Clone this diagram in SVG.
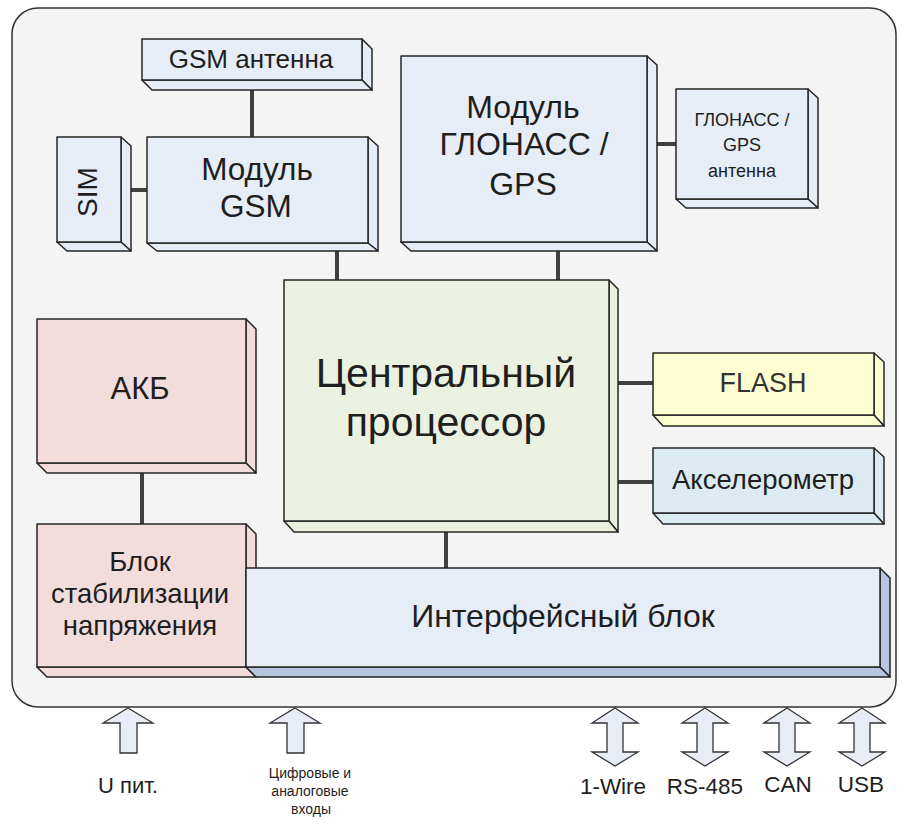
<svg xmlns="http://www.w3.org/2000/svg" width="909" height="825" viewBox="0 0 909 825">
<style>
.f{stroke:#262626;stroke-width:1.5;stroke-linejoin:round}
.b{fill:#e7edf6}
.p{fill:#f2dddc}
.g{fill:#ebf1e0}
.y{fill:#fdfdd2}
.c{fill:#dcebf1}
.bd{fill:#b7c6de}
.t{font-family:"Liberation Sans",Arial,sans-serif;fill:#1e1e1e;text-anchor:middle}
.cn{stroke:#404040;stroke-width:4;fill:none}
.ar{fill:#e8edf5;stroke:#333;stroke-width:1.3;stroke-linejoin:miter}
</style>
<rect x="12" y="8" width="884" height="699" rx="26" ry="26" fill="#f4f4f4" stroke="#333" stroke-width="1.5"/>

<g id="connectors">
<line class="cn" x1="252" y1="90" x2="252" y2="137"/>
<line class="cn" x1="131" y1="190" x2="147" y2="190"/>
<line class="cn" x1="337" y1="251" x2="337" y2="281"/>
<line class="cn" x1="558" y1="251" x2="558" y2="281"/>
<line class="cn" x1="657" y1="144" x2="676" y2="144"/>
<line class="cn" x1="142" y1="473" x2="142" y2="524"/>
<line class="cn" x1="618" y1="383" x2="653" y2="383"/>
<line class="cn" x1="618" y1="482" x2="653" y2="482"/>
<line class="cn" x1="446" y1="532" x2="446" y2="568"/>
</g>

<g id="gsm-antenna">
<polygon class="f b" points="362,39 372,49 372,90 362,80"/>
<polygon class="f b" points="142,80 362,80 372,90 152,90"/>
<rect class="f b" x="142" y="39" width="220" height="41"/>
<text class="t" x="251" y="68" font-size="26">GSM антенна</text>
</g>

<g id="sim">
<polygon class="f b" points="121,137 131,146 131,251 121,242"/>
<polygon class="f b" points="57,242 121,242 131,251 67,251"/>
<rect class="f b" x="57" y="137" width="64" height="105"/>
<text class="t" x="0" y="0" font-size="28" transform="translate(97,192) rotate(-90)">SIM</text>
</g>

<g id="gsm-module">
<polygon class="f b" points="368,137 378,146 378,251 368,243"/>
<polygon class="f b" points="147,243 368,243 378,251 157,251"/>
<rect class="f b" x="147" y="137" width="221" height="106"/>
<text class="t" x="257" y="180" font-size="31.5">Модуль</text>
<text class="t" x="256" y="217" font-size="31.5">GSM</text>
</g>

<g id="glonass-module">
<polygon class="f b" points="647,56 657,65 657,251 647,242"/>
<polygon class="f b" points="401,242 647,242 657,251 411,251"/>
<rect class="f b" x="401" y="56" width="246" height="186"/>
<text class="t" x="523" y="118" font-size="32">Модуль</text>
<text class="t" x="524" y="155" font-size="32">ГЛОНАСС /</text>
<text class="t" x="523" y="195" font-size="32">GPS</text>
</g>

<g id="glonass-antenna">
<polygon class="f b" points="808,89 818,98 818,208 808,199"/>
<polygon class="f b" points="676,199 808,199 818,208 686,208"/>
<rect class="f b" x="676" y="89" width="132" height="110"/>
<text class="t" x="742" y="126" font-size="18">ГЛОНАСС /</text>
<text class="t" x="742" y="151" font-size="18">GPS</text>
<text class="t" x="742" y="177" font-size="18">антенна</text>
</g>

<g id="cpu">
<polygon class="f g" points="609,280 618,289 618,532 609,521"/>
<polygon class="f g" points="284,521 609,521 618,532 294,532"/>
<rect class="f g" x="284" y="280" width="325" height="241"/>
<text class="t" x="446" y="387" font-size="41">Центральный</text>
<text class="t" x="446" y="436" font-size="41">процессор</text>
</g>

<g id="akb">
<polygon class="f p" points="246,319 256,329 256,473 246,463"/>
<polygon class="f p" points="37,463 246,463 256,473 47,473"/>
<rect class="f p" x="37" y="319" width="209" height="144"/>
<text class="t" x="140" y="399" font-size="31">АКБ</text>
</g>

<g id="voltage-stabilizer">
<polygon class="f p" points="246,524 256,534 256,677 246,667"/>
<polygon class="f p" points="37,667 246,667 256,677 47,677"/>
<rect class="f p" x="37" y="524" width="209" height="143"/>
<text class="t" x="140" y="571" font-size="27.5">Блок</text>
<text class="t" x="140" y="603" font-size="27.5">стабилизации</text>
<text class="t" x="140" y="635" font-size="27.5">напряжения</text>
</g>

<g id="interface">
<polygon class="f bd" points="880,568 890,578 890,677 880,667"/>
<polygon class="f bd" points="246,667 880,667 890,677 256,677"/>
<rect class="f b" x="246" y="568" width="634" height="99"/>
<text class="t" x="563" y="627" font-size="32">Интерфейсный блок</text>
</g>

<g id="flash">
<polygon class="f y" points="874,353 884,362 884,426 874,415"/>
<polygon class="f y" points="653,415 874,415 884,426 663,426"/>
<rect class="f y" x="653" y="353" width="221" height="62"/>
<text class="t" x="763" y="392" font-size="27" style="fill:#333">FLASH</text>
</g>

<g id="accelerometer">
<polygon class="f c" points="874,448 884,457 884,524 874,513"/>
<polygon class="f c" points="653,513 874,513 884,524 663,524"/>
<rect class="f c" x="653" y="448" width="221" height="65"/>
<text class="t" x="763" y="489" font-size="27.5">Акселерометр</text>
</g>

<g id="arrow-power">
<polygon class="ar" points="128,708 153,723 137,723 137,753 120,753 120,723 103,723"/>
<text class="t" x="128" y="793" font-size="22">U пит.</text>
</g>

<g id="arrow-inputs">
<polygon class="ar" points="295,708 320,723 304,723 304,753 287,753 287,723 270,723"/>
<text class="t" x="310" y="778" font-size="14">Цифровые и</text>
<text class="t" x="310" y="796" font-size="14">аналоговые</text>
<text class="t" x="311" y="814" font-size="14">входы</text>
</g>

<g id="arrow-1wire">
<polygon class="ar" points="615,708 638,723 623,723 623,752 638,752 615,766 592,752 607,752 607,723 592,723"/>
<text class="t" x="613" y="794" font-size="22.5">1-Wire</text>
</g>
<g id="arrow-rs485">
<polygon class="ar" points="705,708 728,723 713,723 713,752 728,752 705,766 682,752 697,752 697,723 682,723"/>
<text class="t" x="705" y="794" font-size="22.5">RS-485</text>
</g>
<g id="arrow-can">
<polygon class="ar" points="787,708 810,723 795,723 795,752 810,752 787,766 764,752 779,752 779,723 764,723"/>
<text class="t" x="788" y="792" font-size="22.5">CAN</text>
</g>
<g id="arrow-usb">
<polygon class="ar" points="862,708 885,723 870,723 870,752 885,752 862,766 839,752 854,752 854,723 839,723"/>
<text class="t" x="861" y="792" font-size="22.5">USB</text>
</g>
</svg>
